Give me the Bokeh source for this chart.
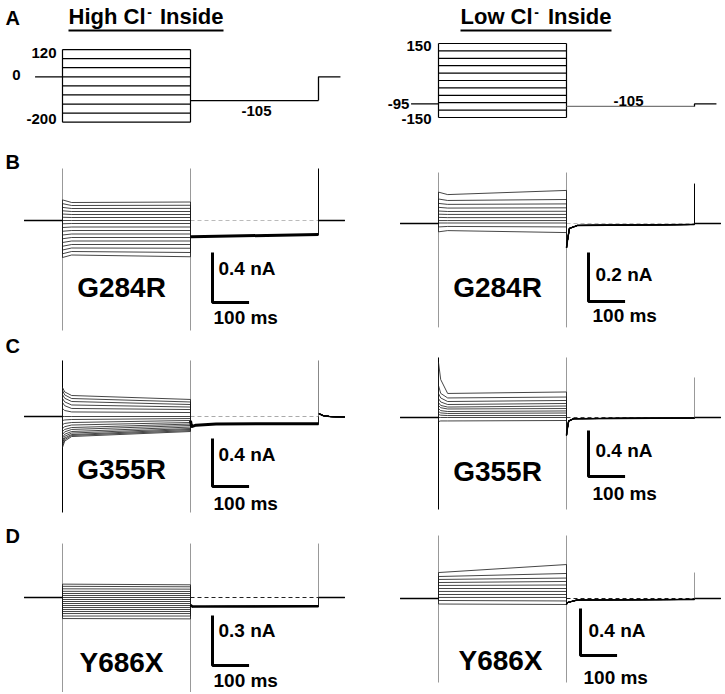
from bokeh.plotting import figure
from bokeh.layouts import column, row
from bokeh.models import Range1d
from bokeh.core.properties import value
from bokeh.embed import file_html
from bokeh.resources import INLINE

FONT = "Liberation Sans"

# ---------------- voltage protocol (ms, mV) ----------------
T_PRE = -75
T_STEP_END = 350
T_TAIL_END = 700
T_POST_END = 760
HIGH_CL_LEVELS = [120, 80, 40, 0, -40, -80, -120, -160, -200]
HIGH_CL_HOLD = 0
LOW_CL_LEVELS = [150, 120, 90, 60, 30, 0, -30, -60, -90, -120, -150]
LOW_CL_HOLD = -95
TAIL_V = -105

# ---------------- current traces (ms, nA) ----------------
HOLD_T = [-105, 0]
MUTANTS = ["G284R", "G355R", "Y686X"]
SCALE_MS = 100
SCALE_NA = {"B_L": 0.4, "B_R": 0.2, "C_L": 0.4, "C_R": 0.4, "D_L": 0.3, "D_R": 0.4}

# B, high Cl- (G284R)
BL_T = [0, 25, 350]
BL_ONSET = [0.165, 0.135, 0.105, 0.078, 0.052, 0.026, 0.0, -0.026, -0.056, -0.086, -0.116, -0.146, -0.176, -0.206, -0.236, -0.266, -0.296]
BL_EARLY = [0.144, 0.120, 0.096, 0.072, 0.048, 0.024, 0.0, -0.024, -0.052, -0.080, -0.108, -0.136, -0.164, -0.192, -0.220, -0.248, -0.276]
BL_END = [0.148, 0.122, 0.097, 0.072, 0.048, 0.024, 0.0, -0.024, -0.052, -0.080, -0.108, -0.136, -0.164, -0.192, -0.222, -0.256, -0.290]
BL_TAIL_T = [350, 353, 700]
BL_TAIL_I = [-0.13, -0.13, -0.112]
BL_POST_T = [700, 772]
BL_POST_I = [0.0, 0.0]

# B, low Cl- (G284R)
BR_T = [0, 25, 350]
BR_ONSET = [0.128, 0.100, 0.082, 0.066, 0.051, 0.038, 0.025, 0.012, 0.002, -0.014, -0.034]
BR_EARLY = [0.118, 0.094, 0.078, 0.063, 0.049, 0.037, 0.024, 0.012, 0.002, -0.012, -0.029]
BR_END = [0.135, 0.098, 0.080, 0.064, 0.050, 0.037, 0.024, 0.012, 0.002, -0.014, -0.037]
BR_TAIL_T = [350, 351, 358, 380, 700]
BR_TAIL_I = [-0.10, -0.085, -0.02, -0.008, -0.004]
BR_POST_T = [700, 772]
BR_POST_I = [0.0, 0.0]

# C, high Cl- (G355R)
CL_T = [0, 6, 25, 350]
CL_ONSET = [0.242, 0.217, 0.183, 0.150, 0.117, 0.067, 0.0, -0.033, -0.067, -0.100, -0.125, -0.150, -0.175, -0.200, -0.217, -0.238, -0.258]
CL_T6 = [0.205, 0.180, 0.152, 0.122, 0.090, 0.050, 0.0, -0.029, -0.058, -0.085, -0.108, -0.128, -0.148, -0.165, -0.180, -0.192, -0.205]
CL_EARLY = [0.175, 0.150, 0.125, 0.096, 0.067, 0.038, 0.0, -0.025, -0.050, -0.071, -0.092, -0.108, -0.125, -0.138, -0.150, -0.158, -0.167]
CL_END = [0.142, 0.121, 0.100, 0.079, 0.058, 0.033, 0.0, -0.017, -0.033, -0.050, -0.063, -0.075, -0.088, -0.100, -0.108, -0.117, -0.125]
CL_TAIL_T = [350, 353, 365, 420, 700]
CL_TAIL_I = [-0.035, -0.085, -0.072, -0.062, -0.060]
CL_POST_T = [700, 712, 730, 772]
CL_POST_I = [0.025, 0.008, 0.0, -0.005]

# C, low Cl- (G355R)
CR_T = [0, 6, 25, 350]
CR_ONSET = [0.478, 0.278, 0.209, 0.165, 0.130, 0.104, 0.078, 0.052, 0.026, 0.0, -0.035]
CR_T6 = [0.330, 0.210, 0.170, 0.135, 0.105, 0.085, 0.060, 0.040, 0.020, 0.0, -0.030]
CR_EARLY = [0.209, 0.170, 0.139, 0.113, 0.091, 0.074, 0.052, 0.035, 0.017, 0.0, -0.030]
CR_END = [0.222, 0.178, 0.148, 0.122, 0.100, 0.078, 0.057, 0.039, 0.017, 0.0, -0.026]
CR_TAIL_T = [350, 351, 356, 370, 700]
CR_TAIL_I = [-0.157, -0.12, -0.03, -0.01, -0.004]
CR_POST_T = [700, 772]
CR_POST_I = [0.0, 0.0]

# D, high Cl- (Y686X)
DL_T = [0, 350]
DL_START = [0.080, 0.067, 0.052, 0.037, 0.024, 0.012, 0.0, -0.012, -0.024, -0.036, -0.048, -0.060, -0.072, -0.084, -0.096, -0.111, -0.126]
DL_END = [0.076, 0.064, 0.050, 0.036, 0.024, 0.012, 0.0, -0.012, -0.024, -0.036, -0.048, -0.060, -0.072, -0.084, -0.096, -0.111, -0.128]
DL_TAIL_T = [350, 355, 700]
DL_TAIL_I = [-0.045, -0.054, -0.053]
DL_POST_T = [700, 772]
DL_POST_I = [0.0, 0.0]

# D, low Cl- (Y686X)
DR_T = [0, 350]
DR_START = [0.221, 0.187, 0.162, 0.136, 0.111, 0.085, 0.060, 0.034, 0.009, -0.017, -0.047]
DR_END = [0.289, 0.213, 0.174, 0.145, 0.115, 0.085, 0.060, 0.034, 0.009, -0.021, -0.051]
DR_TAIL_T = [350, 352, 380, 700]
DR_TAIL_I = [-0.05, -0.035, -0.012, -0.008]
DR_POST_T = [700, 772]
DR_POST_I = [0.0, 0.0]

# capacitive transients (clipped): high, low at step on/off; spike height at tail end
CAP = {"B_L": (0.416, -0.88, 0.416), "B_R": (0.208, -0.424, 0.163),
       "C_L": (0.467, -0.80, 0.467), "C_R": (0.522, -0.80, 0.348),
       "D_L": (0.323, -0.60, 0.323), "D_R": (0.536, -0.715, 0.221)}

# ---------------- layout (page px) ----------------
KX = 128.0 / 350.0
PAN = {
    "A_L": dict(xl=0, xr=366, yt=0, yb=135, x0=62, base=76.3, k=0.2269),
    "A_R": dict(xl=366, xr=722, yt=0, yb=135, x0=438, base=80.0, k=0.2467),
    "B_L": dict(xl=0, xr=366, yt=135, yb=335, x0=62, base=220, k=125.0),
    "B_R": dict(xl=366, xr=722, yt=135, yb=335, x0=438, base=223, k=245.0),
    "C_L": dict(xl=0, xr=366, yt=335, yb=515, x0=62, base=416, k=120.0),
    "C_R": dict(xl=366, xr=722, yt=335, yb=515, x0=438, base=417, k=115.0),
    "D_L": dict(xl=0, xr=366, yt=515, yb=692, x0=62, base=597, k=167.0),
    "D_R": dict(xl=366, xr=722, yt=515, yb=692, x0=438, base=598, k=117.5),
}


def tx(pan, xr):
    return (xr - pan["x0"]) / KX


def ty(pan, yr):
    return (pan["base"] - yr) / pan["k"]


def mk(pan):
    p = figure(width=int(pan["xr"] - pan["xl"]), height=int(pan["yb"] - pan["yt"]),
               x_range=Range1d(tx(pan, pan["xl"]), tx(pan, pan["xr"])),
               y_range=Range1d(ty(pan, pan["yb"]), ty(pan, pan["yt"])),
               output_backend="svg", toolbar_location=None,
               x_axis_type=None, y_axis_type=None, min_border=0,
               outline_line_color=None, background_fill_color="white",
               border_fill_color="white")
    p.xgrid.visible = False
    p.ygrid.visible = False
    return p


def put(p, pan, xr, yr, s, size, bold=True, align="left", color="black"):
    p.text(x=[tx(pan, xr)], y=[ty(pan, yr)], text=[s], text_font=value(FONT),
           text_font_size=value(f"{size}px"),
           text_font_style="bold" if bold else "normal",
           text_align=align, text_baseline="middle", text_color=color)


def protocol(key, levels, hold, tail_color, labels, title, letter):
    pan = PAN[key]
    p = mk(pan)
    vmin, vmax = min(levels), max(levels)
    n = len(levels)
    p.segment(x0=[0] * n, y0=levels, x1=[T_STEP_END] * n, y1=levels,
              line_color="black", line_width=1.2)
    p.segment(x0=[0, T_STEP_END], y0=[vmin, vmin], x1=[0, T_STEP_END], y1=[vmax, vmax],
              line_color="black", line_width=1.2)
    p.line([T_PRE, 0], [hold, hold], line_color="black", line_width=1.3)
    p.line([T_STEP_END, T_TAIL_END], [TAIL_V, TAIL_V], line_color=tail_color, line_width=1.4)
    p.line([T_TAIL_END, T_TAIL_END, T_POST_END], [TAIL_V, hold, hold],
           line_color="black", line_width=1.3)
    for s, xr, yr, al in labels:
        put(p, pan, xr, yr, s, 15, bold=True, align=al)
    # title with superscript minus, underlined
    (t1, x1), (x2,), (t3, x3), (ul0, ul1) = title
    put(p, pan, x1, 16, t1, 22, align="left")
    put(p, pan, x2, 11, "-", 14, align="center")
    put(p, pan, x3, 16, t3, 22, align="right")
    p.line([tx(pan, ul0), tx(pan, ul1)], [ty(pan, 30), ty(pan, 30)],
           line_color="black", line_width=2)
    if letter:
        put(p, pan, 5, 17, letter, 20, align="left")
    return p


def traces(key, step_t, step_arrays, tail_t, tail_i, post_t, post_i, colors,
           tail_w, bar, nA_xy, ms_xy, name, name_xy, letter=None, letter_y=None):
    pan = PAN[key]
    p = mk(pan)
    hi, lo, spike = CAP[key]
    on_c, off_c, sp_c, zero_c = colors
    p.segment(x0=[0], y0=[lo], x1=[0], y1=[hi], line_color=on_c, line_width=1)
    p.segment(x0=[T_STEP_END], y0=[lo], x1=[T_STEP_END], y1=[hi], line_color=off_c, line_width=1)
    p.line([T_STEP_END, T_TAIL_END], [0, 0], line_color=zero_c, line_width=1,
           line_dash="4 3")
    xs, ys = [], []
    for k in range(len(step_arrays[0])):
        xs.append(HOLD_T + step_t + tail_t + post_t)
        ys.append([0.0, 0.0] + [a[k] for a in step_arrays] + tail_i + post_i)
    p.multi_line(xs, ys, line_color="#1a1a1a", line_width=0.9, line_alpha=0.9)
    p.line(tail_t, tail_i, line_color="black", line_width=tail_w)
    p.segment(x0=[T_TAIL_END], y0=[0], x1=[T_TAIL_END], y1=[spike],
              line_color=sp_c, line_width=1)
    p.line(post_t, post_i, line_color="black", line_width=1.5)
    p.line(HOLD_T, [0, 0], line_color="black", line_width=1.5)
    # scale bar
    bx, byy = tx(pan, bar[0]), ty(pan, bar[1])
    sna = SCALE_NA[key]
    p.line([bx, bx, bx + SCALE_MS], [byy + sna, byy, byy], line_color="black",
           line_width=3)
    put(p, pan, nA_xy[0], nA_xy[1], f"{sna} nA", 19)
    put(p, pan, ms_xy[0], ms_xy[1], f"{SCALE_MS} ms", 19)
    put(p, pan, name_xy[0], name_xy[1], name, 28, align="center")
    if letter:
        put(p, pan, 5, letter_y, letter, 20)
    return p


a_l = protocol("A_L", HIGH_CL_LEVELS, HIGH_CL_HOLD, "black",
               [(str(HIGH_CL_LEVELS[0]), 56, 52, "right"),
                (str(HIGH_CL_HOLD), 16, 74, "center"),
                (str(HIGH_CL_LEVELS[-1]), 56, 118, "right"),
                (str(TAIL_V), 256, 110, "center")],
               (("High Cl", 68), (149,), ("Inside", 223), (68, 223)), "A")
a_r = protocol("A_R", LOW_CL_LEVELS, LOW_CL_HOLD, "#777777",
               [(str(LOW_CL_LEVELS[0]), 431, 45, "right"),
                (str(LOW_CL_HOLD), 398, 103, "center"),
                (str(LOW_CL_LEVELS[-1]), 431, 118, "right"),
                (str(TAIL_V), 628, 100, "center")],
               (("Low Cl", 460), (536,), ("Inside", 611), (460, 611)), None)

b_l = traces("B_L", BL_T, [BL_ONSET, BL_EARLY, BL_END], BL_TAIL_T, BL_TAIL_I,
             BL_POST_T, BL_POST_I, ("#999999", "#999999", "black", "#bbbbbb"), 3,
             (212, 302), (218, 268), (213, 317), MUTANTS[0], (121, 287), "B", 161)
b_r = traces("B_R", BR_T, [BR_ONSET, BR_EARLY, BR_END], BR_TAIL_T, BR_TAIL_I,
             BR_POST_T, BR_POST_I, ("#999999", "#999999", "black", "#bbbbbb"), 1.5,
             (588, 301), (595, 274), (592, 315), MUTANTS[0], (497, 287))
c_l = traces("C_L", CL_T, [CL_ONSET, CL_T6, CL_EARLY, CL_END], CL_TAIL_T, CL_TAIL_I,
             CL_POST_T, CL_POST_I, ("black", "#999999", "#888888", "#aaaaaa"), 3,
             (212, 486), (218, 454), (213, 503), MUTANTS[1], (121, 469), "C", 345)
c_r = traces("C_R", CR_T, [CR_ONSET, CR_T6, CR_EARLY, CR_END], CR_TAIL_T, CR_TAIL_I,
             CR_POST_T, CR_POST_I, ("black", "#999999", "#999999", "#444444"), 1.5,
             (588, 476), (595, 450), (592, 493), MUTANTS[1], (497, 471))
d_l = traces("D_L", DL_T, [DL_START, DL_END], DL_TAIL_T, DL_TAIL_I,
             DL_POST_T, DL_POST_I, ("#999999", "#999999", "#999999", "#222222"), 2.5,
             (212, 665), (218, 630), (213, 680), MUTANTS[2], (121, 662), "D", 535)
d_r = traces("D_R", DR_T, [DR_START, DR_END], DR_TAIL_T, DR_TAIL_I,
             DR_POST_T, DR_POST_I, ("#999999", "#999999", "#999999", "#222222"), 1.5,
             (580, 655), (588, 630), (583, 677), MUTANTS[2], (500, 660))

layout = column(row(a_l, a_r), row(b_l, b_r), row(c_l, c_r), row(d_l, d_r))
open("out.html", "w").write(file_html(layout, INLINE))
